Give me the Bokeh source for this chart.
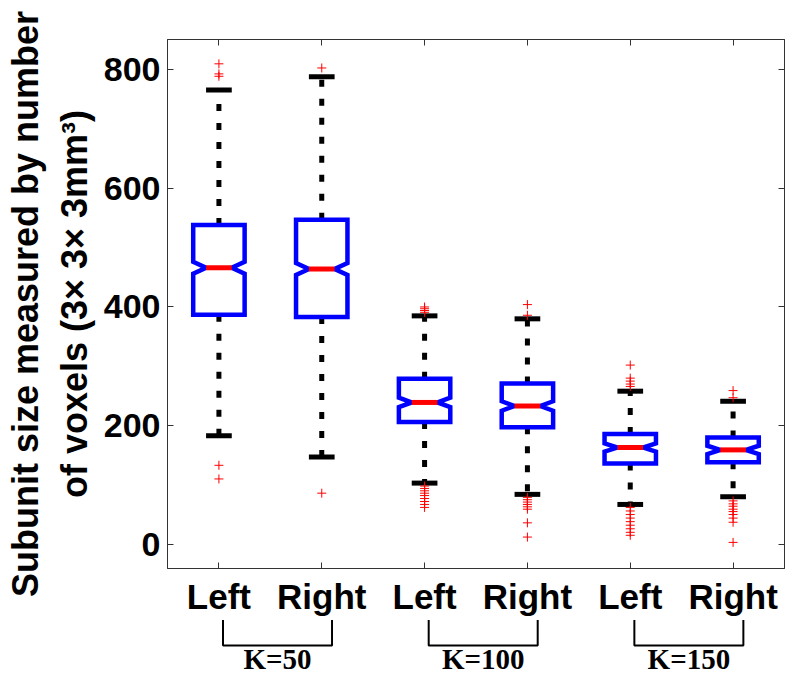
import numpy as np
from bokeh.plotting import figure
from bokeh.layouts import column
from bokeh.models import FixedTicker, LinearAxis, Range1d
from bokeh.core.properties import value
from bokeh.embed import file_html
from bokeh.resources import INLINE

# ---------------- data ----------------
tick_labels = ["Left", "Right", "Left", "Right", "Left", "Right"]
group_labels = ["K=50", "K=100", "K=150"]
q1 = [387, 383, 206, 197, 136, 138]
medians = [466, 464, 239, 233, 163, 159]
q3 = [538, 547, 279, 271, 186, 180]
whisker_low = [183, 147, 103, 84, 67, 80]
whisker_high = [766, 788, 385, 380, 258, 241]
notch_half = [10, 10, 8, 8, 7, 7]
outliers = [
    [810, 793, 789, 133, 110],
    [803, 86],
    [400, 397, 394, 391, 98, 94, 90, 86, 82, 77, 72, 67, 62],
    [404, 386, 79, 75, 71, 67, 63, 59, 36, 12],
    [302, 280, 275, 270, 266, 62, 56, 50, 44, 38, 32, 26, 20, 15],
    [259, 247, 73, 68, 64, 59, 55, 50, 44, 37, 3],
]
y_ticks = [0, 200, 400, 600, 800]

positions = list(range(1, len(tick_labels) + 1))

FONT = "Liberation Sans"
W = 787
Y0, Y1 = -41, 851          # y range of the main axes
TOP, FRAME_BOTTOM, H1, H2 = 39, 569, 618, 57
PX_PER_UNIT = (FRAME_BOTTOM - TOP) / (Y1 - Y0)

# ---------------- main figure ----------------
p = figure(width=W, height=H1, output_backend="svg", toolbar_location=None,
           title=None,
           x_range=Range1d(0.5, 6.5), y_range=Range1d(Y0, Y1),
           min_border_left=167, min_border_right=3, min_border_top=TOP,
           min_border_bottom=H1 - FRAME_BOTTOM)
p.background_fill_color = "white"
p.border_fill_color = "white"
p.outline_line_color = "#333333"
p.outline_line_width = 1
p.xgrid.visible = False
p.ygrid.visible = False

xa = p.xaxis[0]
xa.ticker = FixedTicker(ticks=positions)
xa.major_label_overrides = {pos: lab for pos, lab in zip(positions, tick_labels)}
ya = p.yaxis[0]
ya.ticker = FixedTicker(ticks=y_ticks)
for ax in (xa, ya):
    ax.major_tick_in = 6
    ax.major_tick_out = 0
    ax.minor_tick_line_color = None
    ax.axis_line_color = "#333333"
    ax.major_tick_line_color = "#333333"
    ax.major_label_text_font = FONT
    ax.major_label_text_font_style = "bold"
    ax.major_label_text_color = "black"
xa.major_label_text_font_size = "35px"
xa.major_label_standoff = 8
ya.major_label_text_font_size = "34px"
ya.major_label_standoff = 7
ya.axis_label = "Subunit size measured by number\nof voxels (3\u00d7 3\u00d7 3mm\u00b3)"
ya.axis_label_text_font = FONT
ya.axis_label_text_font_style = "bold"
ya.axis_label_text_font_size = "36px"
ya.axis_label_text_color = "black"
ya.axis_label_standoff = 6

# mirrored ticks on top and right (box on)
top = LinearAxis(ticker=FixedTicker(ticks=positions),
                 major_label_overrides={pos: "" for pos in positions})
right = LinearAxis(ticker=FixedTicker(ticks=y_ticks),
                   major_label_overrides={t: "" for t in y_ticks})
for ax in (top, right):
    ax.major_tick_in = 6
    ax.major_tick_out = 0
    ax.minor_tick_line_color = None
    ax.axis_line_color = "#333333"
    ax.major_tick_line_color = "#333333"
    ax.major_label_standoff = 0
p.add_layout(top, "above")
p.add_layout(right, "right")

# ---------------- boxes ----------------
w = 0.5
xs, ys = [], []
for x, a, m, b, n in zip(positions, q1, medians, q3, notch_half):
    l, r = x - w / 2, x + w / 2
    li, ri = x - w / 4, x + w / 4
    xs.append([l, l, li, l, l, r, r, ri, r, r])
    ys.append([a, m - n, m, m + n, b, b, m + n, m, m - n, a])

# whiskers (dashed)
p.segment(x0=positions, y0=q3, x1=positions, y1=whisker_high,
          line_color="black", line_width=5, line_dash="7 12")
p.segment(x0=positions, y0=q1, x1=positions, y1=whisker_low,
          line_color="black", line_width=5, line_dash="7 12")
# caps
cw = 0.125
p.segment(x0=[x - cw for x in positions], y0=whisker_high,
          x1=[x + cw for x in positions], y1=whisker_high,
          line_color="black", line_width=5)
p.segment(x0=[x - cw for x in positions], y0=whisker_low,
          x1=[x + cw for x in positions], y1=whisker_low,
          line_color="black", line_width=5)

p.patches(xs=xs, ys=ys, fill_color=None, line_color="#0000ff", line_width=4.5,
          line_join="miter")
# medians
p.segment(x0=[x - w / 4 for x in positions], y0=medians,
          x1=[x + w / 4 for x in positions], y1=medians,
          line_color="#ff0000", line_width=5)

# outliers
ox, oy = [], []
for x, vals in zip(positions, outliers):
    ox += [x] * len(vals)
    oy += vals
p.scatter(x=ox, y=oy, marker="cross", size=9, line_color="#ff0000", line_width=1)

# ---------------- group brackets (strip below, same x scale) ----------------
y_top2 = Y0 - (H1 - FRAME_BOTTOM) / PX_PER_UNIT
y_bot2 = y_top2 - H2 / PX_PER_UNIT
p2 = figure(width=W, height=H2, output_backend="svg", toolbar_location=None,
            title=None,
            x_range=p.x_range, y_range=Range1d(y_bot2, y_top2),
            min_border_left=167, min_border_right=3, min_border_top=0, min_border_bottom=0)
p2.axis.visible = False
p2.grid.visible = False
p2.outline_line_color = None
p2.background_fill_color = "white"
p2.border_fill_color = "white"

br_top, br_bot, lab_y = -126, -169, -192
bx, by, cx = [], [], []
for g in range(len(group_labels)):
    x0 = positions[2 * g] + 0.04
    x1 = positions[2 * g + 1] + 0.1
    bx.append([x0, x0, x1, x1])
    by.append([br_top, br_bot, br_bot, br_top])
    cx.append((x0 + x1) / 2)
p2.multi_line(xs=bx, ys=by, line_color="black", line_width=2)
p2.text(x=cx, y=[lab_y] * len(cx), text=group_labels, text_align="center",
        text_baseline="middle", text_font=value("Liberation Serif"),
        text_font_style="bold", text_font_size="29px", text_color="black")

layout = column(p, p2, spacing=0)
open("out.html", "w").write(file_html(layout, INLINE))
